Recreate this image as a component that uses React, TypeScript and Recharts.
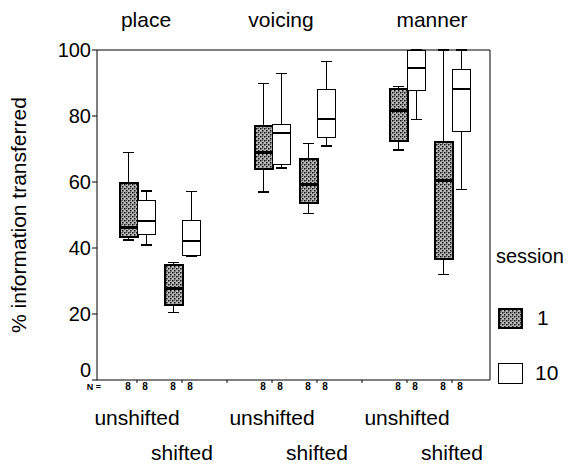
import { ComposedChart, Bar, XAxis, YAxis } from "recharts";

const categories = [
  "place-unshifted",
  "place-shifted",
  "gap-1",
  "voicing-unshifted",
  "voicing-shifted",
  "gap-2",
  "manner-unshifted",
  "manner-shifted",
];
const conditions = ["unshifted", "shifted", "", "unshifted", "shifted", "", "unshifted", "shifted"];
const groups = ["place", "", "", "voicing", "", "", "manner", ""];

// [min, q1, median, q3, max]
const session1 = [
  [42.4, 43.4, 46.3, 59.6, 68.9],
  [20.5, 22.7, 27.6, 35.0, 35.6],
  null,
  [56.9, 63.9, 69.0, 77.0, 89.9],
  [50.5, 53.5, 59.1, 66.9, 71.7],
  null,
  [69.7, 72.5, 81.6, 88.1, 88.9],
  [32.0, 36.7, 60.4, 72.2, 100],
];
const session10 = [
  [40.9, 44.2, 48.3, 54.5, 57.3],
  [37.6, 37.6, 42.2, 48.3, 57.1],
  null,
  [64.3, 65.2, 75.0, 77.3, 92.9],
  [70.9, 73.5, 79.0, 88.1, 96.5],
  null,
  [79.0, 87.6, 94.4, 100, 100],
  [57.8, 75.2, 88.1, 94.2, 100],
];
const n1 = [8, 8, null, 8, 8, null, 8, 8];
const n10 = [8, 8, null, 8, 8, null, 8, 8];
const yTicks = [0, 20, 40, 60, 80, 100];

const data = categories.map((cat, i) => ({
  cat,
  s1: session1[i],
  s10: session10[i],
  n1: n1[i],
  n10: n10[i],
}));

const FONT = "'Liberation Sans', Arial, sans-serif";
const groupShift = [9, 0, 0, 9, 0, 0, 25, 0];

function Stipple({ id }: { id: string }) {
  return (
    <pattern id={id} width="4" height="4" patternUnits="userSpaceOnUse">
      <rect width="4" height="4" fill="#b8b8b8" />
      <rect x="0" y="0" width="1.5" height="1.5" fill="#111" />
      <rect x="2" y="2" width="1.5" height="1.5" fill="#111" />
      <rect x="2" y="0" width="1" height="1" fill="#555" />
    </pattern>
  );
}

function BoxShape(props: any) {
  const { x, y, width, height, payload, k } = props;
  const s = payload?.[k];
  if (!s) return null;
  const [mn, q1, md, q3, mx] = s;
  const top = Math.min(y, y + height);
  const h = Math.abs(height);
  const py = (v: number) => top + ((mx - v) / (mx - mn)) * h;
  const cx = x + width / 2;
  const hatched = k === "s1";
  const cap = 5.5;
  return (
    <g shapeRendering="crispEdges">
      <line x1={cx} x2={cx} y1={py(mx)} y2={py(q3)} stroke="#000" />
      <line x1={cx} x2={cx} y1={py(q1)} y2={py(mn)} stroke="#000" />
      <line x1={cx - cap} x2={cx + cap} y1={py(mx)} y2={py(mx)} stroke="#000" strokeWidth={1.5} />
      <line x1={cx - cap} x2={cx + cap} y1={py(mn)} y2={py(mn)} stroke="#000" strokeWidth={1.5} />
      <rect
        x={x}
        y={py(q3)}
        width={width}
        height={py(q1) - py(q3)}
        fill={hatched ? "url(#stip)" : "#fff"}
        stroke="#000"
        strokeWidth={hatched ? 2 : 1}
      />
      <line
        x1={x}
        x2={x + width}
        y1={py(md)}
        y2={py(md)}
        stroke="#000"
        strokeWidth={hatched ? 3 : 2}
      />
    </g>
  );
}

function BottomTick(props: any) {
  const { x, y, index } = props;
  const row = data[index];
  return (
    <g fontFamily={FONT}>
      {index === 0 && (
        <text x={x - 43} y={y + 5} fontSize={9} fontWeight="bold" textAnchor="middle">
          N =
        </text>
      )}
      {row.n1 != null && (
        <text x={x - 9} y={y + 5} fontSize={10} fontWeight="bold" textAnchor="middle">
          {row.n1}
        </text>
      )}
      {row.n10 != null && (
        <text x={x + 8} y={y + 5} fontSize={10} fontWeight="bold" textAnchor="middle">
          {row.n10}
        </text>
      )}
      {conditions[index] && (
        <text
          x={x}
          y={conditions[index] === "unshifted" ? y + 40 : y + 75}
          fontSize={21}
          textAnchor="middle"
          fill="#000"
        >
          {conditions[index]}
        </text>
      )}
    </g>
  );
}

function TopTick(props: any) {
  const { x, y, index } = props;
  if (!groups[index]) return null;
  return (
    <text x={x + groupShift[index]} y={y - 23} fontSize={21} fontFamily={FONT} textAnchor="middle" fill="#000">
      {groups[index]}
    </text>
  );
}

function YTick(props: any) {
  const { x, y, payload } = props;
  // the zero label sits a little above the axis line in the original
  const lift = payload.value === 0 ? -10 : 0;
  return (
    <text x={x} y={y + lift} dy="0.355em" textAnchor="end" fontSize={20} fontFamily={FONT} fill="#000">
      {payload.value}
    </text>
  );
}

function YLabel(props: any) {
  const vb = props.viewBox || {};
  const cx = 18;
  const cy = vb.y + vb.height / 2;
  return (
    <text
      x={cx}
      y={cy}
      transform={`rotate(-90, ${cx}, ${cy})`}
      textAnchor="middle"
      dominantBaseline="central"
      fontSize={21}
      fontFamily={FONT}
      fill="#000"
    >
      % information transferred
    </text>
  );
}

export default function App() {
  return (
    <div style={{ margin: -8, width: 571, height: 468, background: "#fff", position: "relative", overflow: "hidden" }}>
      <ComposedChart
        width={571}
        height={468}
        data={data}
        margin={{ top: 10, right: 80, bottom: 0, left: 0 }}
        barGap={0}
        barSize={18}
      >
        <defs>
          <Stipple id="stip" />
        </defs>
        <XAxis
          dataKey="cat"
          height={88}
          padding={{ left: 17.5, right: 15.5 }}
          axisLine={{ stroke: "#000" }}
          tickLine={{ stroke: "#000" }}
          tickSize={3}
          tickMargin={2}
          interval={0}
          tick={<BottomTick />}
        />
        <XAxis
          xAxisId="top"
          orientation="top"
          dataKey="cat"
          height={40}
          padding={{ left: 17.5, right: 15.5 }}
          axisLine={{ stroke: "#000" }}
          tickLine={false}
          tickSize={0}
          tickMargin={0}
          interval={0}
          tick={<TopTick />}
        />
        <YAxis
          type="number"
          domain={[0, 100]}
          ticks={yTicks}
          width={97}
          axisLine={{ stroke: "#000" }}
          tickLine={{ stroke: "#000" }}
          tickSize={5}
          tickMargin={1}
          tick={<YTick />}
          label={<YLabel />}
        />
        <YAxis
          yAxisId="right"
          orientation="right"
          type="number"
          domain={[0, 100]}
          width={1}
          tick={false}
          tickLine={false}
          axisLine={{ stroke: "#000" }}
        />
        <Bar
          dataKey={(d: any) => (d.s1 ? [d.s1[0], d.s1[4]] : null)}
          name="1"
          isAnimationActive={false}
          shape={(p: any) => <BoxShape {...p} k="s1" />}
        />
        <Bar
          dataKey={(d: any) => (d.s10 ? [d.s10[0], d.s10[4]] : null)}
          name="10"
          isAnimationActive={false}
          shape={(p: any) => <BoxShape {...p} k="s10" />}
        />
      </ComposedChart>
      <div style={{ position: "absolute", left: 496, top: 245, fontFamily: FONT, fontSize: 20, color: "#000" }}>
        session
      </div>
      <div style={{ position: "absolute", left: 498, top: 306, display: "flex", alignItems: "center", fontFamily: FONT, fontSize: 21 }}>
        <svg width={25} height={21}>
          <defs>
            <Stipple id="stipLegend" />
          </defs>
          <rect x={1} y={1} width={23} height={19} fill="url(#stipLegend)" stroke="#000" strokeWidth={2} />
        </svg>
        <span style={{ marginLeft: 14 }}>1</span>
      </div>
      <div style={{ position: "absolute", left: 498, top: 361, display: "flex", alignItems: "center", fontFamily: FONT, fontSize: 21 }}>
        <svg width={25} height={21}>
          <rect x={0.5} y={0.5} width={24} height={20} fill="#fff" stroke="#000" strokeWidth={1} />
        </svg>
        <span style={{ marginLeft: 12 }}>10</span>
      </div>
    </div>
  );
}
